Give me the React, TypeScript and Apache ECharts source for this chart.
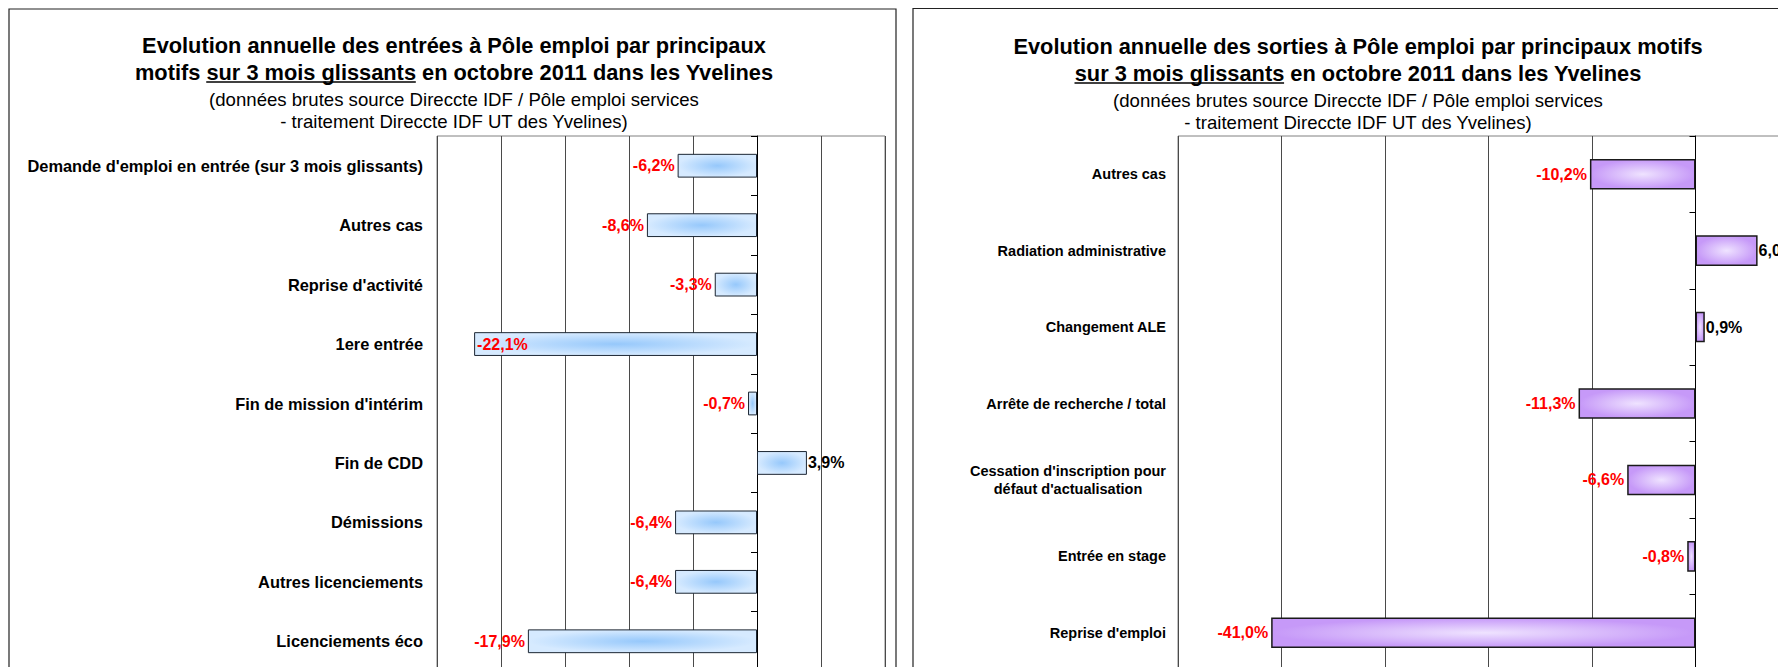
import React, { useEffect, useRef } from "react";
import * as echarts from "echarts";

const leftCategories = [
  "Demande d'emploi en entrée (sur 3 mois glissants)",
  "Autres cas",
  "Reprise d'activité",
  "1ere entrée",
  "Fin de mission d'intérim",
  "Fin de CDD",
  "Démissions",
  "Autres licenciements",
  "Licenciements éco",
];
const leftValues = [-6.2, -8.6, -3.3, -22.1, -0.7, 3.9, -6.4, -6.4, -17.9];

const rightCategories = [
  "Autres cas",
  "Radiation administrative",
  "Changement ALE",
  "Arrête de recherche / total",
  "Cessation d'inscription pour\ndéfaut d'actualisation",
  "Entrée en stage",
  "Reprise d'emploi",
];
const rightValues = [-10.2, 6.0, 0.9, -11.3, -6.6, -0.8, -41.0];

const leftAxisRange = { min: -25, max: 10, interval: 5 };
const rightAxisRange = { min: -50, max: 10, interval: 10 };

const leftTitle1 = "Evolution annuelle des entrées à Pôle emploi par principaux";
const leftTitle2 = ["motifs ", "sur 3 mois glissants", " en octobre 2011 dans les Yvelines"];
const rightTitle1 = "Evolution annuelle des sorties à Pôle emploi par principaux motifs";
const rightTitle2 = ["", "sur 3 mois glissants", " en octobre 2011 dans les Yvelines"];
const subtitle1 = "(données brutes source Direccte IDF / Pôle emploi services";
const subtitle2 = "- traitement Direccte IDF UT des Yvelines)";

const FONT = '"Liberation Sans", Arial, Helvetica, sans-serif';
const TITLE_SIZE = 21.8;
const SUB_SIZE = 18.6;

function measure(text: string, font: string): number {
  const ctx = document.createElement("canvas").getContext("2d");
  if (!ctx) return text.length * 10;
  ctx.font = font;
  return ctx.measureText(text).width;
}

function fmt(v: number): string {
  return v.toFixed(1).replace(".", ",") + "%";
}

function titleBlock(cx: number, y1: number, t1: string, t2: string[]) {
  const tFont = `bold ${TITLE_SIZE}px ${FONT}`;
  const y2 = y1 + 27;
  const y3 = y1 + 54;
  const y4 = y1 + 76;
  const wA = measure(t2[0], tFont);
  const wB = measure(t2[1], tFont);
  const wC = measure(t2[2], tFont);
  const start = cx - (wA + wB + wC) / 2;
  const ux1 = start + wA;
  const ux2 = ux1 + wB;
  const mk = (text: string, y: number, size: number, weight: string) => ({
    type: "text",
    x: cx,
    y,
    style: {
      text,
      fill: "#000",
      fontSize: size,
      fontWeight: weight,
      fontFamily: FONT,
      textAlign: "center",
      textVerticalAlign: "middle",
      align: "center",
      verticalAlign: "middle",
    },
  });
  return [
    mk(t1, y1, TITLE_SIZE, "bold"),
    mk(t2.join(""), y2, TITLE_SIZE, "bold"),
    {
      type: "line",
      shape: { x1: ux1, y1: y2 + 10, x2: ux2, y2: y2 + 10 },
      style: { stroke: "#000", lineWidth: 1.6 },
    },
    mk(subtitle1, y3, SUB_SIZE, "normal"),
    mk(subtitle2, y4, SUB_SIZE, "normal"),
  ];
}

function barData(values: number[], range: { min: number; max: number }, gridWidth: number) {
  const ppu = gridWidth / (range.max - range.min);
  return values.map((v) => {
    let position = v < 0 ? "left" : "right";
    if (v < 0 && (v - range.min) * ppu < 58) position = "insideLeft";
    return {
      value: v,
      label: {
        position,
        distance: v < 0 ? 3 : 1,
        color: v < 0 ? "#ff0000" : "#000000",
      },
    };
  });
}

export default function App() {
  const ref = useRef<HTMLDivElement>(null);

  useEffect(() => {
    document.body.style.overflow = "hidden";
    document.documentElement.style.overflow = "hidden";
    if (!ref.current) return;
    const chart = echarts.init(ref.current, undefined, { renderer: "svg" });

    const gridTop = 128;
    const gridHeight = 535;
    const leftGrid = { left: 429, width: 448 };
    const rightGrid = { left: 1170, width: 621 };

    const blueFill = {
      type: "radial",
      x: 0.5,
      y: 0.5,
      r: 0.5,
      colorStops: [
        { offset: 0, color: "#96c8fb" },
        { offset: 1, color: "#d6eaff" },
      ],
    };
    const purpleFill = {
      type: "radial",
      x: 0.5,
      y: 0.5,
      r: 0.5,
      colorStops: [
        { offset: 0, color: "#efe3ff" },
        { offset: 1, color: "#c699f8" },
      ],
    };

    const valueAxis = (gridIndex: number, r: { min: number; max: number; interval: number }) => ({
      type: "value",
      gridIndex,
      min: r.min,
      max: r.max,
      interval: r.interval,
      axisLabel: { show: false },
      axisLine: { show: false },
      axisTick: { show: false },
      splitLine: { show: true, lineStyle: { color: "#4a4a4a", width: 1 } },
    });

    const labelAxis = (gridIndex: number, data: string[], size: number, margin: number) => ({
      type: "category",
      gridIndex,
      data,
      inverse: true,
      position: "left",
      axisLine: { show: false, onZero: false },
      axisTick: { show: false },
      splitLine: { show: false },
      axisLabel: {
        show: true,
        color: "#000",
        fontWeight: "bold",
        fontSize: size,
        fontFamily: FONT,
        margin,
        lineHeight: 18,
        formatter: (val: string) =>
          val.indexOf("\n") >= 0
            ? val
                .split("\n")
                .map((s) => `{c|${s}}`)
                .join("\n")
            : val,
        rich: {
          c: {
            width: 196,
            align: "center",
            fontWeight: "bold",
            fontSize: size,
            fontFamily: FONT,
            color: "#000",
            lineHeight: 18,
          },
        },
      },
    });

    const zeroAxis = (gridIndex: number, data: string[]) => ({
      type: "category",
      gridIndex,
      data,
      inverse: true,
      position: "left",
      axisLine: { show: true, onZero: true, lineStyle: { color: "#000", width: 1 } },
      axisTick: { show: true, length: 6, lineStyle: { color: "#000", width: 1 } },
      axisLabel: { show: false },
      splitLine: { show: false },
    });

    const seriesLabel = {
      show: true,
      fontWeight: "bold",
      fontSize: 16,
      fontFamily: FONT,
      formatter: (p: any) => fmt(p.value),
    };

    const option = {
      animation: false,
      backgroundColor: "#ffffff",
      textStyle: { fontFamily: FONT },
      grid: [
        {
          left: leftGrid.left,
          top: gridTop,
          width: leftGrid.width,
          height: gridHeight,
          show: true,
          borderColor: "#808080",
          borderWidth: 1,
          backgroundColor: "transparent",
        },
        {
          left: rightGrid.left,
          top: gridTop,
          width: rightGrid.width,
          height: gridHeight,
          show: true,
          borderColor: "#808080",
          borderWidth: 1,
          backgroundColor: "transparent",
        },
      ],
      xAxis: [valueAxis(0, leftAxisRange), valueAxis(1, rightAxisRange)],
      yAxis: [
        labelAxis(0, leftCategories, 16.4, 14),
        zeroAxis(0, leftCategories),
        labelAxis(1, rightCategories, 14.5, 12),
        zeroAxis(1, rightCategories),
      ],
      series: [
        {
          type: "bar",
          xAxisIndex: 0,
          yAxisIndex: 0,
          barCategoryGap: "60%",
          data: barData(leftValues, leftAxisRange, leftGrid.width),
          itemStyle: { color: blueFill, borderColor: "#1c2633", borderWidth: 1 },
          label: seriesLabel,
        },
        {
          type: "bar",
          xAxisIndex: 1,
          yAxisIndex: 2,
          barCategoryGap: "60%",
          data: barData(rightValues, rightAxisRange, rightGrid.width),
          itemStyle: { color: purpleFill, borderColor: "#1a1a1a", borderWidth: 1.5 },
          label: seriesLabel,
        },
      ],
      graphic: [
        {
          type: "rect",
          shape: { x: 1, y: 1, width: 887, height: 720 },
          style: { fill: "transparent", stroke: "#222", lineWidth: 1.2 },
        },
        {
          type: "rect",
          shape: { x: 905, y: 0.5, width: 900, height: 720 },
          style: { fill: "transparent", stroke: "#222", lineWidth: 1.2 },
        },
        ...titleBlock(446, 37, leftTitle1, leftTitle2),
        ...titleBlock(1350, 38, rightTitle1, rightTitle2),
      ],
    };

    chart.setOption(option as any);
    return () => {
      chart.dispose();
    };
  }, []);

  return <div ref={ref} style={{ width: 1810, height: 680, overflow: "hidden" }} />;
}
